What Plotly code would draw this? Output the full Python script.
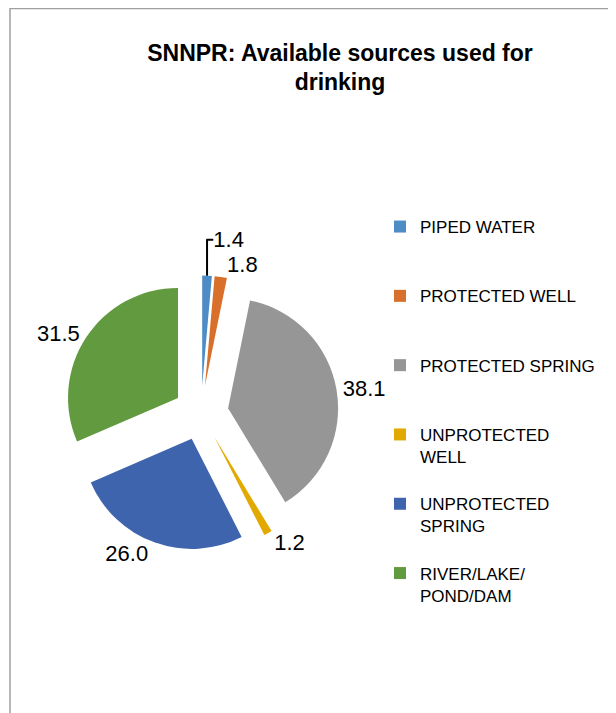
import plotly.graph_objects as go

# Data
categories = ["PIPED WATER", "PROTECTED WELL", "PROTECTED SPRING",
              "UNPROTECTED WELL", "UNPROTECTED SPRING", "RIVER/LAKE/POND/DAM"]
legend_labels = ["PIPED WATER<br> <br> ", "PROTECTED WELL<br> <br> ", "PROTECTED SPRING<br> <br> ",
                 "UNPROTECTED<br>WELL<br> ", "UNPROTECTED<br>SPRING<br> ", "RIVER/LAKE/<br>POND/DAM<br> "]
values = [1.4, 1.8, 38.1, 1.2, 26.0, 31.5]
colors = ["#4E8CC6", "#D86F2B", "#969696", "#E2A900", "#3E64AD", "#629A40"]

FONT = "Liberation Sans, Arial, sans-serif"
OFF = 8                      # default page body margin
W, H = 616 - OFF, 713 - OFF  # figure fits inside the window

# pie geometry (screen pixels -> figure pixels)
cx, cy, R = 201 - OFF, 413 - OFF, 137.5

fig = go.Figure(go.Pie(
    labels=legend_labels,
    values=values,
    customdata=categories,
    sort=False,
    direction="clockwise",
    rotation=0,
    pull=[0.25] * len(values),
    marker=dict(colors=colors, line=dict(width=0)),
    texttemplate="%{value:.1f}",
    textposition="outside",
    textfont=dict(family=FONT, size=22, color="#000000"),
    hovertemplate="%{customdata}: %{value:.1f}<extra></extra>",
    domain=dict(x=[(cx - R) / W, (cx + R) / W], y=[1 - (cy + R) / H, 1 - (cy - R) / H]),
))

fig.update_layout(
    width=W, height=H,
    margin=dict(l=0, r=0, t=0, b=0, autoexpand=False),
    paper_bgcolor="white",
    plot_bgcolor="white",
    title=dict(
        text="<b>SNNPR: Available sources used for<br>drinking</b>",
        font=dict(family=FONT, size=23, color="#000000"),
        x=(340 - OFF) / W, xanchor="center", y=1 - 52.5 / H, yanchor="middle",
    ),
    showlegend=True,
    legend=dict(
        x=(380 - OFF) / W, xanchor="left", y=1 - 201 / H, yanchor="top",
        font=dict(family=FONT, size=17, color="#000000"),
        valign="top",
        bgcolor="rgba(0,0,0,0)",
    ),
    shapes=[dict(type="rect", xref="paper", yref="paper",
                 x0=(10 - OFF) / W, x1=(610 - OFF) / W, y0=-0.05, y1=1 - 0.5 / H,
                 line=dict(color="#A0A0A0", width=1.5), fillcolor="rgba(0,0,0,0)", layer="below")],
)

fig.write_html("out.html")
